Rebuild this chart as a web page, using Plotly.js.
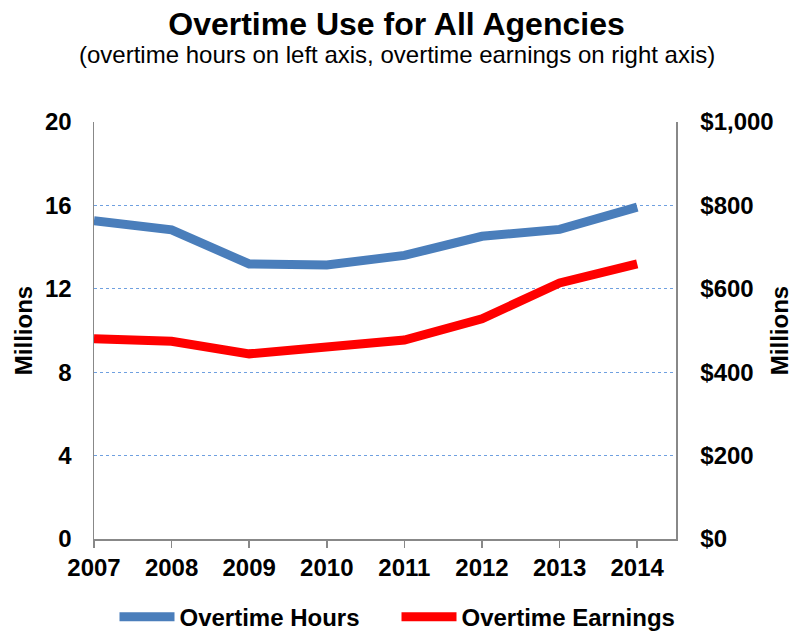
<!DOCTYPE html>
<html>
<head>
<meta charset="utf-8">
<script src="https://cdn.plot.ly/plotly-3.0.1.min.js"></script>
<style>html,body{margin:0;padding:0;background:#fff;}#chart{width:793px;height:631px;}</style>
</head>
<body>
<div id="chart"></div>
<script>
// Data
const years = ["2007", "2008", "2009", "2010", "2011", "2012", "2013", "2014"];
const overtimeHours = [15.27, 14.83, 13.19, 13.14, 13.6, 14.52, 14.85, 15.92];   // millions of hours (left axis)
const overtimeEarnings = [480, 474, 444, 458, 477, 528, 614, 660];              // $ millions (right axis)
const leftTicks = [0, 4, 8, 12, 16, 20];
const rightTicks = [0, 200, 400, 600, 800, 1000];
const rightTickText = ["$0", "$200", "$400", "$600", "$800", "$1,000"];

const FONT = "Liberation Sans, Arial, Helvetica, sans-serif";
const xIdx = years.map((_, i) => i);

const traces = [
  {
    x: xIdx, y: overtimeHours, name: "Overtime Hours", type: "scatter", mode: "lines",
    line: {color: "#4A7EBB", width: 9}, yaxis: "y"
  },
  {
    x: xIdx, y: overtimeEarnings, name: "Overtime Earnings", type: "scatter", mode: "lines",
    line: {color: "#FF0000", width: 9}, yaxis: "y2"
  }
];

const layout = {
  width: 793, height: 631,
  margin: {l: 94, r: 117, t: 122, b: 92},
  paper_bgcolor: "#ffffff", plot_bgcolor: "#ffffff",
  font: {family: FONT, color: "#000"},
  title: {
    text: "<b>Overtime Use for All Agencies</b>",
    font: {size: 32, family: FONT, color: "#000"},
    x: 0.5, xanchor: "center", xref: "container",
    y: 0.963, yanchor: "middle", yref: "container"
  },
  annotations: [{
    text: "(overtime hours on left axis, overtime earnings on right axis)",
    xref: "paper", yref: "paper", x: 0.52, y: 1.161, xanchor: "center", yanchor: "middle",
    showarrow: false, font: {size: 24, family: FONT, color: "#000"}
  }],
  showlegend: true,
  legend: {
    orientation: "h", x: 0.5, xanchor: "center", xref: "container",
    y: 0.022, yanchor: "middle", yref: "container",
    font: {size: 24, family: FONT, color: "#000", weight: "bold"},
    itemwidth: 55, entrywidth: 212, entrywidthmode: "pixels", traceorder: "normal",
    tracegroupgap: 0
  },
  xaxis: {
    range: [0, 7.5], tickmode: "array", tickvals: xIdx, ticktext: years,
    showgrid: false, zeroline: false,
    showline: true, linecolor: "#888888", linewidth: 1.5,
    ticks: "outside", ticklen: 7, tickcolor: "#888888", tickwidth: 1.5,
    tickfont: {size: 24, family: FONT, color: "#000", weight: "bold"},
    fixedrange: true
  },
  yaxis: {
    range: [0, 20], tickmode: "array", tickvals: leftTicks,
    showgrid: true, gridcolor: "#6FA0E0", gridwidth: 1, griddash: "dot",
    zeroline: false, showline: true, linecolor: "#888888", linewidth: 1.5,
    ticks: "", ticklabelstandoff: 16,
    tickfont: {size: 24, family: FONT, color: "#000", weight: "bold"},
    title: {text: "Millions", font: {size: 24, family: FONT, color: "#000", weight: "bold"}, standoff: 5}
  },
  yaxis2: {
    range: [0, 1000], tickmode: "array", tickvals: rightTicks, ticktext: rightTickText,
    overlaying: "y", side: "right", anchor: "x",
    showgrid: false, zeroline: false, showline: true, linecolor: "#888888", linewidth: 1.5,
    ticks: "", ticklabelstandoff: 18,
    tickfont: {size: 24, family: FONT, color: "#000", weight: "bold"},
    title: {text: "Millions", font: {size: 24, family: FONT, color: "#000", weight: "bold"}, standoff: 14}
  }
};

Plotly.newPlot("chart", traces, layout, {displayModeBar: false, staticPlot: true});
</script>
</body>
</html>
